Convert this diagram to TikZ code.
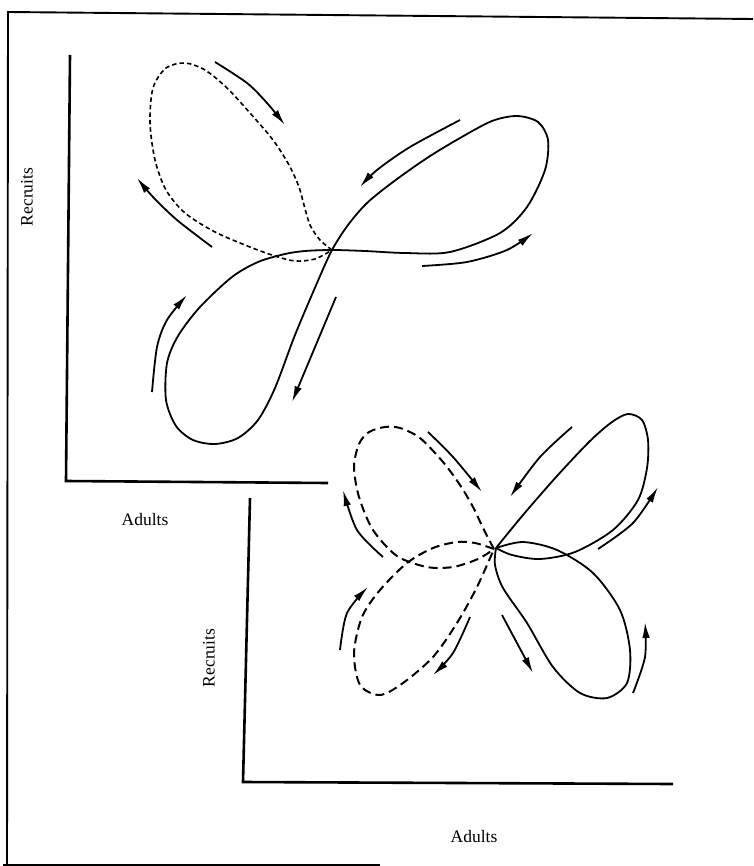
\documentclass[tikz,border=0pt]{standalone}
\usepackage{fontspec}
\setmainfont{Liberation Serif}
\usetikzlibrary{arrows.meta}

\begin{document}
\begin{tikzpicture}[x=1pt,y=-1pt,
    every node/.style={font=\fontsize{17.5}{20}\selectfont},
    axis/.style={line width=2.6pt},
    frame/.style={line width=1.9pt},
    orbit/.style={line width=1.8pt},
    fine/.style={orbit, line width=1.6pt, dash pattern=on 4.5pt off 3pt},
    coarse/.style={orbit, line width=2pt, dash pattern=on 9pt off 5pt},
    flow/.style={line width=1.8pt, -{Latex[length=16pt,width=7.5pt]}}]
  \useasboundingbox (0,0) rectangle (753,866);
  \draw[frame] (753,19) -- (8,12) -- (7,865);
  \draw[frame] (3,865) -- (380,865);

  \draw[axis] (70,55) -- (66,481) -- (328,483);
  \node[rotate=90] (recA) at (27,197) {Recruits};
  \node (adA) at (145,520) {Adults};
  \draw[orbit] plot[smooth cycle] coordinates {(332,250) (365,251) (405,253)
    (450,252) (500,233) (527,207) (545,170) (548,140) (538,122) (517,116)
    (492,121) (460,138) (427,158) (393,182) (367,203) (348,225) (332,250)
    (317,283) (295,335) (275,388) (258,420) (238,438) (215,444) (193,440)
    (176,426) (166,400) (167,363) (178,336) (200,307) (232,277) (258,262)
    (285,254) (305,251)};
  \draw[fine] plot[smooth] coordinates {(332,250) (320,240) (310,225)
    (304,205) (299,187) (289,165) (273,140) (250,113) (227,88) (205,70)
    (185,63) (166,68) (153,88) (150,123) (155,160) (166,190) (185,213)
    (215,232) (250,247) (275,256) (295,261) (315,259) (332,250)};
  \draw[flow] plot[smooth] coordinates {(215,62) (247,83) (267,103) (285,125)};
  \draw[flow] plot[smooth] coordinates {(460,120) (410,147) (377,170) (360,187)};
  \draw[flow] plot[smooth] coordinates {(212,247) (177,220) (153,197) (137,178)};
  \draw[flow] plot[smooth] coordinates {(422,266) (467,262) (507,250) (533,233)};
  \draw[flow] plot[smooth] coordinates {(152,392) (157,347) (167,320) (187,295)};
  \draw[flow] (336,297) -- (292,402);

  \draw[axis] (250,498) -- (243,782) -- (673,784);
  \node[rotate=90] (recB) at (209,658) {Recruits};
  \node (adB) at (474,837) {Adults};
  \draw[coarse] plot[smooth] coordinates {(494,549) (484,530) (473,507)
    (460,485) (443,462) (420,438) (400,428) (385,427) (369,432) (359,444)
    (354,467) (359,497) (373,530) (397,556) (427,567) (453,567) (478,559)
    (494,549)};
  \draw[coarse] plot[smooth] coordinates {(494,549) (475,543) (457,542)
    (433,548) (407,563) (380,590) (362,617) (354,653) (360,685) (380,695)
    (403,683) (433,657) (457,623) (477,587) (494,549)};
  \draw[orbit] plot[smooth] coordinates {(496,548) (523,515) (557,476)
    (590,441) (612,422) (628,414) (642,420) (648,440) (647,468) (638,500)
    (613,530) (575,552) (540,559) (512,555) (496,548)};
  \draw[orbit] plot[smooth] coordinates {(496,548) (523,542) (557,550)
    (593,573) (620,610) (630,650) (627,683) (607,698) (580,693) (553,667)
    (527,623) (503,588) (495,565) (496,548)};
  \draw[flow] plot[smooth] coordinates {(428,432) (453,457) (482,492)};
  \draw[flow] plot[smooth] coordinates {(572,427) (540,457) (510,497)};
  \draw[flow] plot[smooth] coordinates {(383,557) (357,530) (343,490)};
  \draw[flow] plot[smooth] coordinates {(598,549) (633,523) (658,487)};
  \draw[flow] plot[smooth] coordinates {(340,650) (347,613) (368,587)};
  \draw[flow] plot[smooth] coordinates {(470,617) (453,653) (433,675)};
  \draw[flow] (502,615) -- (533,673);
  \draw[flow] plot[smooth] coordinates {(633,693) (645,657) (645,622)};
\end{tikzpicture}
\end{document}
